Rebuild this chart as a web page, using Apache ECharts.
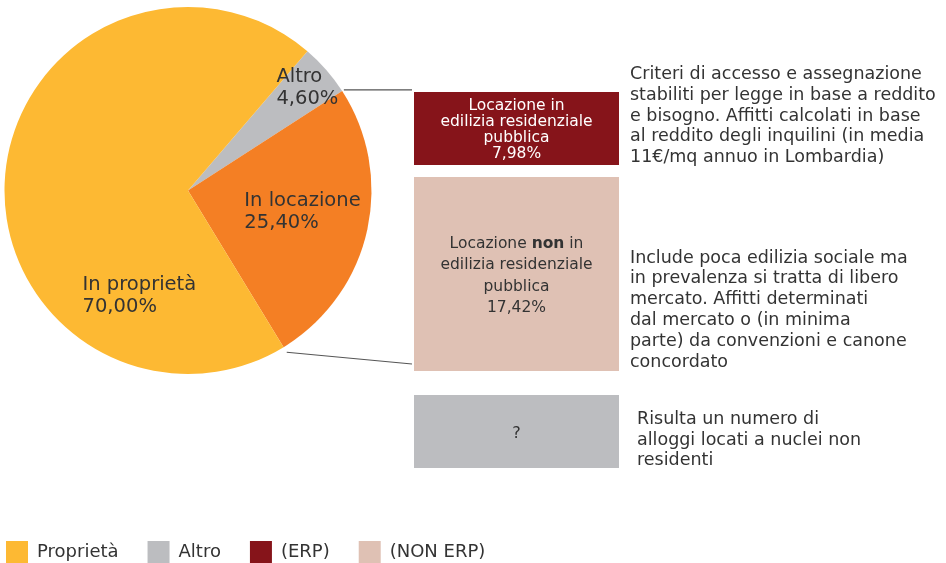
<!DOCTYPE html>
<html><head><meta charset="utf-8">
<script src="https://cdn.jsdelivr.net/npm/echarts@6/dist/echarts.min.js"></script>
<style>html,body{margin:0;padding:0;background:#fff}#c{width:946px;height:563px}</style>
</head><body><div id="c"></div>
<script>
// ---- data ----
const pieNames = ['Altro', 'In locazione', 'Proprietà'];
const pieLabels = ['Altro', 'In locazione', 'In proprietà'];
const pieValues = [4.60, 25.40, 70.00];
const subNames = ['(ERP)', '(NON ERP)'];
const subValues = [7.98, 17.42];
const legendNames = ['Proprietà', 'Altro', '(ERP)', '(NON ERP)'];
const boxTitles = ['Locazione in\nedilizia residenziale\npubblica', 'Locazione non in\nedilizia residenziale\npubblica', '?'];
const descTexts = [
  'Criteri di accesso e assegnazione\nstabiliti per legge in base a reddito\ne bisogno. Affitti calcolati in base\nal reddito degli inquilini (in media\n11€/mq annuo in Lombardia)',
  'Include poca edilizia sociale ma\nin prevalenza si tratta di libero\nmercato. Affitti determinati\ndal mercato o (in minima\nparte) da convenzioni e canone\nconcordato',
  'Risulta un numero di\nalloggi locati a nuclei non\nresidenti'
];

// ---- styles ----
const FONT = '"DejaVu Sans", sans-serif';
const TXT = '#333333';
const pieColors = ['#bcbdc0', '#f47f24', '#fdb933'];
const subColors = ['#86141a', '#dfc1b4'];
const labelOffsets = [[48, -40], [25, 0], [50, 113]];
const labelWidths = [62, 122, 122];
const fmt = v => v.toFixed(2).replace('.', ',') + '%';

const CX = 188, CY = 190.5, R = 183.5, START = 49.4;

const pieData = pieNames.map((n, i) => ({
  name: n,
  value: pieValues[i],
  itemStyle: { color: pieColors[i] },
  label: {
    offset: labelOffsets[i],
    formatter: '{a|' + pieLabels[i] + '}\n{a|' + fmt(pieValues[i]) + '}',
    rich: { a: { width: labelWidths[i], align: 'left', fontSize: 19.5, lineHeight: 22, color: TXT, fontFamily: FONT } }
  }
}));

const subData = subNames.map((n, i) => ({ name: n, value: subValues[i], itemStyle: { color: subColors[i] } }));

// boundary points of the pie (for connector lines), derived from the data
const total = pieValues.reduce((a, b) => a + b, 0);
function boundaryPoint(k, extra) {
  let acc = 0;
  for (let i = 0; i < k; i++) acc += pieValues[i];
  const ang = (START - acc / total * 360) * Math.PI / 180;
  return [CX + (R + extra) * Math.cos(ang), CY - (R + extra) * Math.sin(ang)];
}
const pA = boundaryPoint(1, 2);     // Altro / In locazione
const pB = boundaryPoint(2, 6);     // In locazione / Proprietà

const BX = 414, BW = 205;
const boxes = [
  { y: 92, h: 73, color: subColors[0] },
  { y: 177, h: 194, color: subColors[1] },
  { y: 395, h: 73, color: '#bcbdc0' }
];

const graphics = [];
boxes.forEach(b => {
  graphics.push({ type: 'rect', shape: { x: BX, y: b.y, width: BW, height: b.h }, style: { fill: b.color }, silent: true });
});
graphics.push({ type: 'text', x: BX + BW / 2, y: 130, silent: true,
  style: { text: boxTitles[0] + '\n' + fmt(subValues[0]), align: 'center', verticalAlign: 'middle',
    fill: '#ffffff', font: '15.5px ' + FONT, lineHeight: 16 } });
graphics.push({ type: 'text', x: BX + BW / 2, y: 276, silent: true,
  style: { text: '{n|Locazione }{b|non}{n| in}\n{n|edilizia residenziale}\n{n|pubblica}\n{n|' + fmt(subValues[1]) + '}',
    align: 'center', verticalAlign: 'middle',
    rich: { n: { fontSize: 15.5, fontFamily: FONT, fill: TXT, lineHeight: 21.5 }, b: { fontSize: 15.5, fontFamily: FONT, fontWeight: 'bold', fill: TXT, lineHeight: 21.5 } } } });
graphics.push({ type: 'text', x: BX + BW / 2, y: 434, silent: true,
  style: { text: boxTitles[2], align: 'center', verticalAlign: 'middle', fill: TXT, font: '16px ' + FONT } });
const descPos = [[630, 116], [630, 310], [637, 440]];
descTexts.forEach((t, i) => {
  graphics.push({ type: 'text', x: descPos[i][0], y: descPos[i][1], silent: true,
    style: { text: t, align: 'left', verticalAlign: 'middle', fill: TXT, font: '17.5px ' + FONT, lineHeight: 20.8 } });
});
graphics.push({ type: 'line', shape: { x1: pA[0], y1: pA[1], x2: 412, y2: pA[1] }, style: { stroke: '#555555', lineWidth: 1.2 }, silent: true });
graphics.push({ type: 'line', shape: { x1: pB[0], y1: pB[1], x2: 412, y2: 364 }, style: { stroke: '#555555', lineWidth: 1.2 }, silent: true });

const chart = echarts.init(document.getElementById('c'), null, { renderer: 'canvas' });
chart.setOption({
  animation: false,
  backgroundColor: '#ffffff',
  legend: {
    data: legendNames,
    left: 6, top: 541, padding: 0,
    icon: 'rect', itemWidth: 22, itemHeight: 22, itemGap: 29,
    selectedMode: false,
    textStyle: { fontSize: 18, color: TXT, fontFamily: FONT, padding: [0, 0, 0, 4] }
  },
  series: [
    {
      type: 'pie',
      center: [CX, CY],
      radius: [0, R],
      startAngle: START,
      clockwise: true,
      silent: true,
      label: { show: true, position: 'inside' },
      labelLine: { show: false },
      itemStyle: { borderWidth: 0 },
      emphasis: { disabled: true },
      data: pieData
    },
    {
      type: 'pie',
      center: [CX, CY],
      radius: [0, 0],
      silent: true,
      label: { show: false },
      labelLine: { show: false },
      data: subData
    }
  ],
  graphic: graphics
});
</script>
</body></html>
